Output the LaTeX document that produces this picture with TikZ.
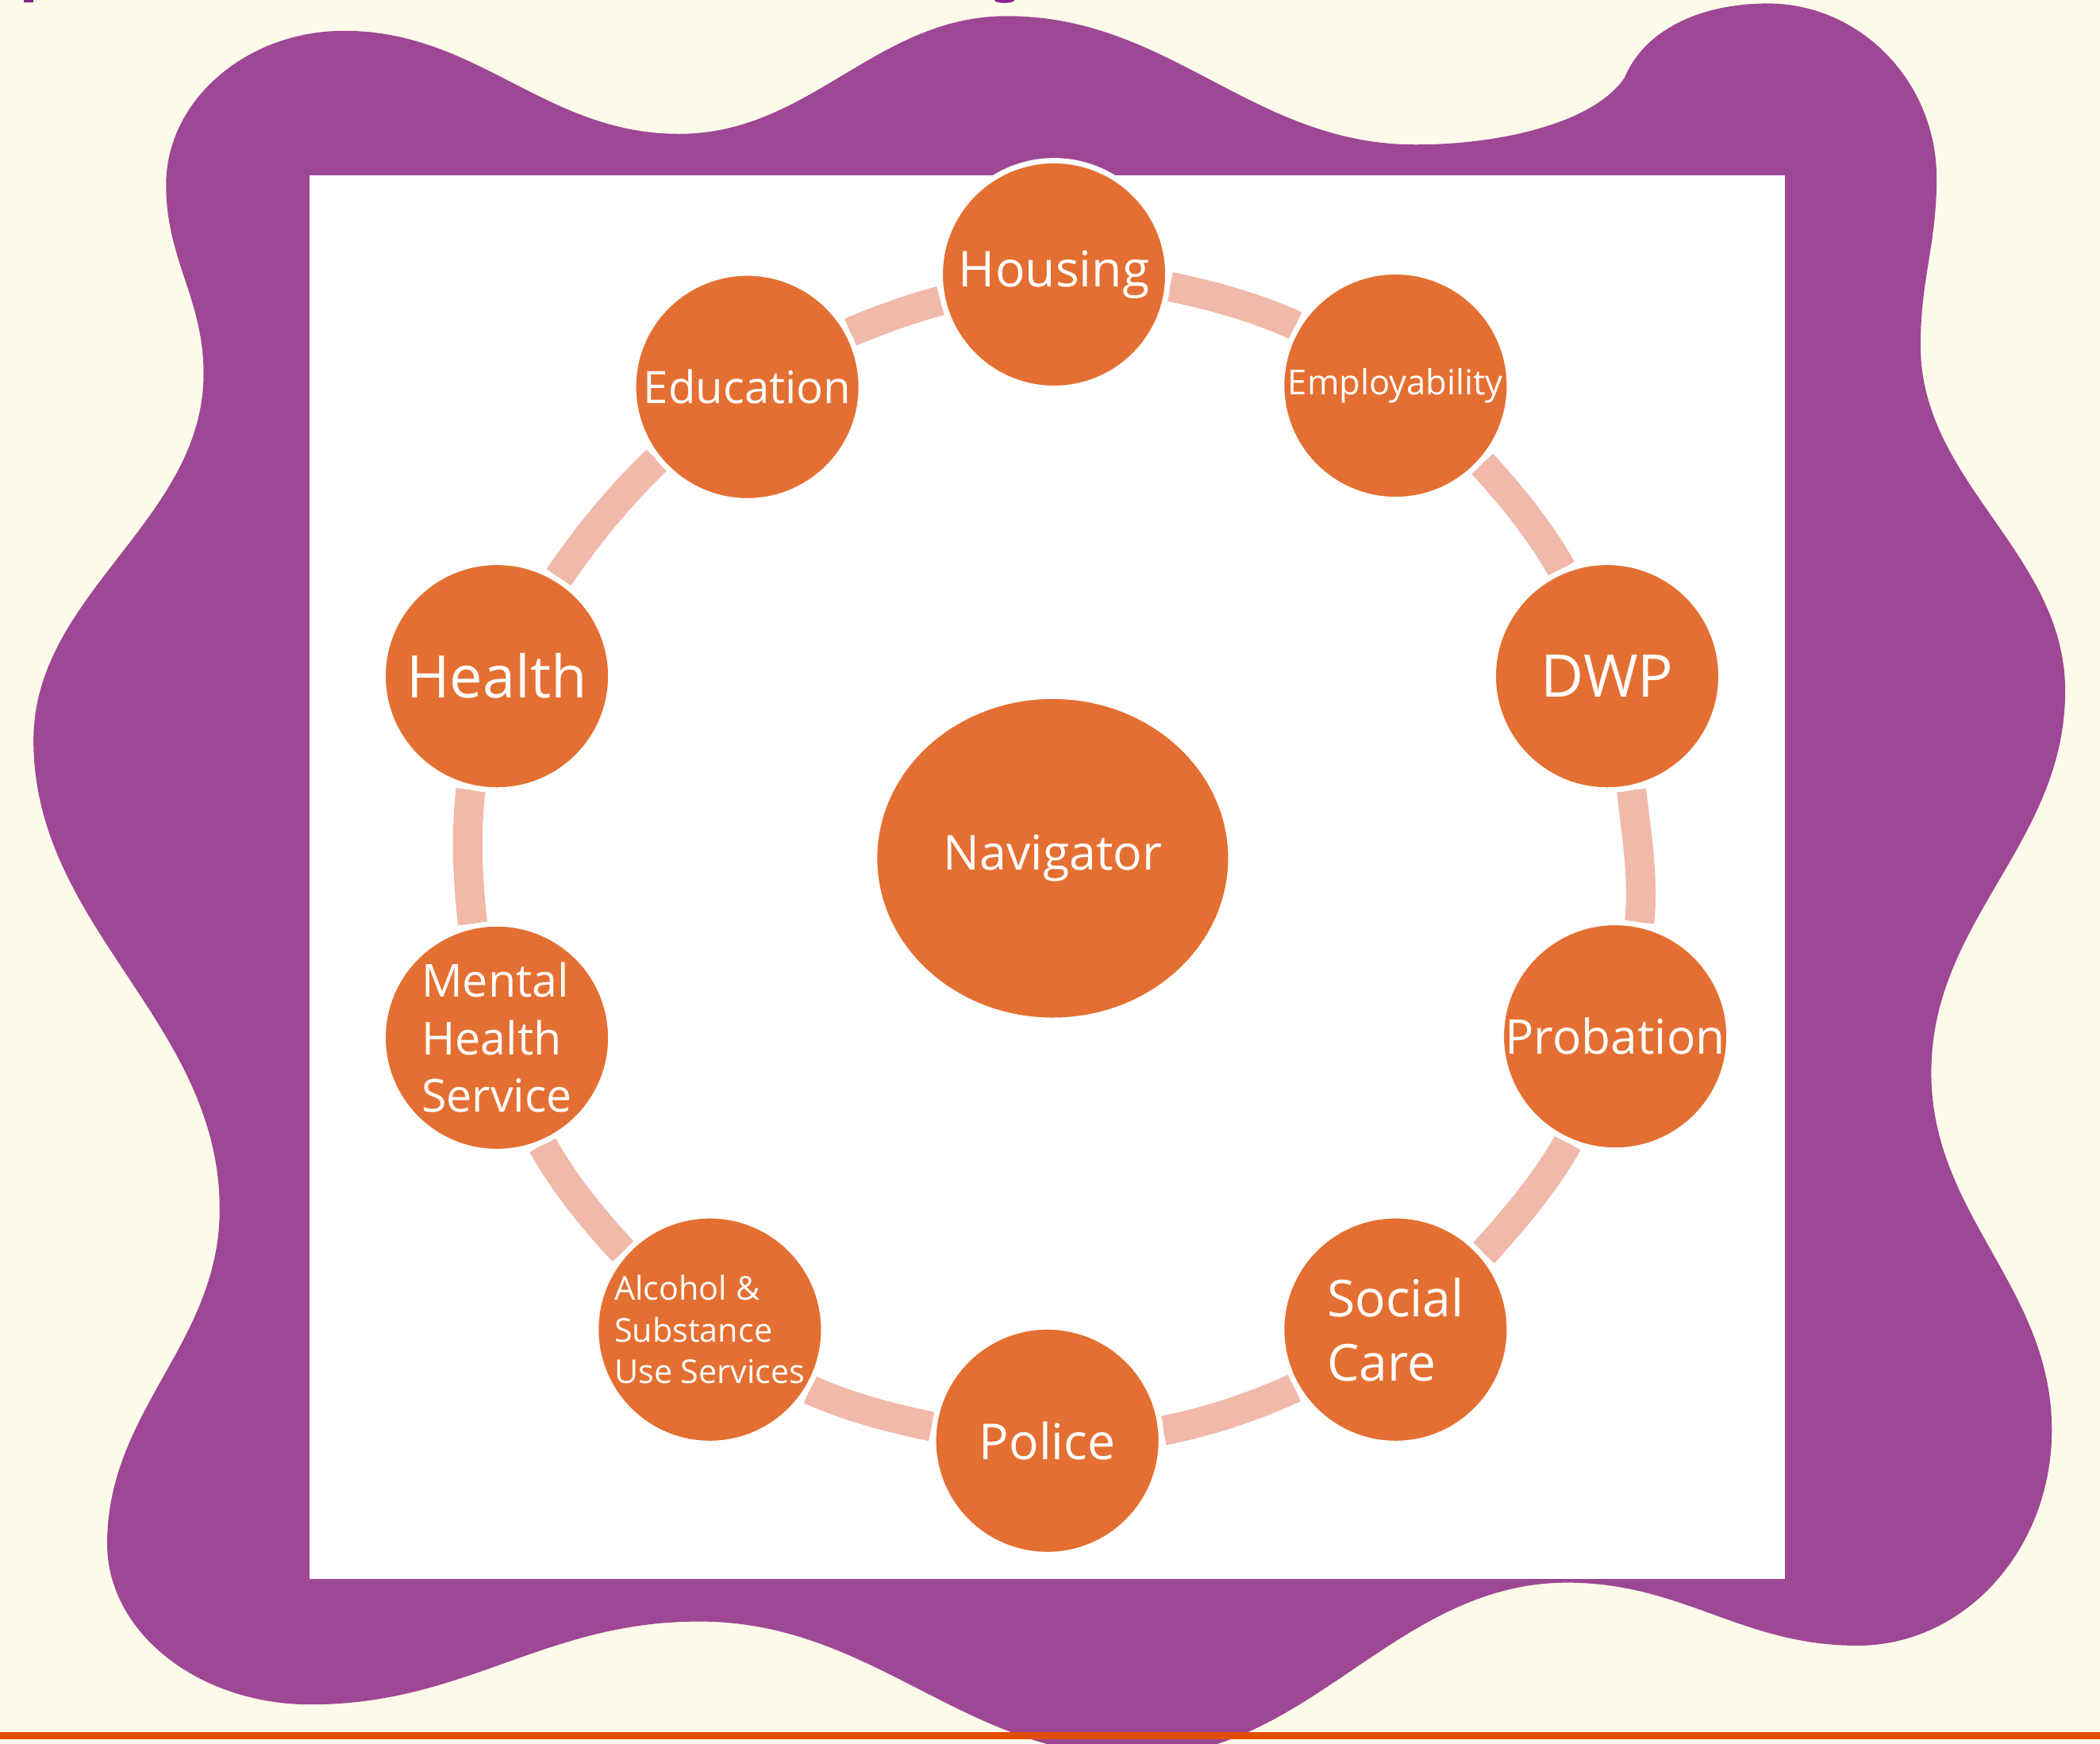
\documentclass[tikz,border=0pt]{standalone}
\usepackage{fontspec}
\setmainfont{Open Sans}
\usetikzlibrary{shapes.geometric}
\definecolor{cream}{HTML}{FEFBEA}
\definecolor{blobpurple}{HTML}{9E4794}
\definecolor{nodeorange}{HTML}{E46F32}
\definecolor{ringpink}{HTML}{F0B9AA}
\definecolor{lineorange}{HTML}{E04E02}
\definecolor{titlepurple}{HTML}{86208C}
\pgfdeclarelayer{back}
\pgfdeclarelayer{mid}
\pgfsetlayers{back,mid,main}
\newcommand\fsz[2]{\fontsize{#1}{#2}\selectfont}
\begin{document}
\begin{tikzpicture}[x=1pt,y=-1pt,
  svc/.style={circle, fill=nodeorange, draw=white, line width=4pt,
    minimum size=170pt, inner sep=0pt, text=white, align=left},
  hub/.style={ellipse, fill=nodeorange, draw=white, line width=4pt,
    minimum width=266pt, minimum height=242pt, inner sep=0pt, text=white},
  link/.style={draw=ringpink, line width=22pt}]
\useasboundingbox (0,0) rectangle (1568,1302);
\begin{pgfonlayer}{back}
\fill[cream] (0,0) rectangle (1568,1302);
\fill[titlepurple] (18,0) rectangle (25,1.8);
\fill[titlepurple] (750,0) ellipse (7.5 and 2.2);
\fill[blobpurple] (257,23)
 .. controls (357,23) and (407,100) .. (507,100)
 .. controls (605,100) and (654,12) .. (752,12)
 .. controls (874,12) and (935,108) .. (1057,108)
 .. controls (1120,108) and (1190,92) .. (1213,58)
 .. controls (1228,22) and (1270,2.6) .. (1320,2.6)
 .. controls (1389,2.6) and (1446,61) .. (1446,133)
 .. controls (1446,183) and (1434,208) .. (1434,258)
 .. controls (1434,361) and (1542,413) .. (1542,516)
 .. controls (1542,630) and (1442,687) .. (1442,801)
 .. controls (1442,908) and (1532,961) .. (1532,1068)
 .. controls (1532,1157) and (1467,1229) .. (1387,1229)
 .. controls (1300,1229) and (1257,1182) .. (1170,1182)
 .. controls (1042,1182) and (978,1312) .. (850,1312)
 .. controls (719,1312) and (653,1211) .. (522,1211)
 .. controls (406,1211) and (348,1273) .. (232,1273)
 .. controls (148,1273) and (80,1219) .. (80,1153)
 .. controls (80,1053) and (164,1003) .. (164,903)
 .. controls (164,763) and (25,693) .. (25,553)
 .. controls (25,443) and (152,389) .. (152,279)
 .. controls (152,223) and (124,194) .. (124,138)
 .. controls (124,75) and (184,23) .. (257,23) -- cycle;
\draw[lineorange, line width=5pt] (0,1296.3) -- (1568,1296.3);
\fill[white] (231,131) rectangle (1333,1179);
\end{pgfonlayer}

\node[svc, font=\fsz{37}{44}] (housing) at (787,205) {Housing};
\node[svc, font=\fsz{25.8}{31}] (employ) at (1042,288) {Employability};
\node[svc, font=\fsz{44}{52}] (dwp) at (1200,505) {DWP};
\node[svc, font=\fsz{35.8}{43}] (probation) at (1206,774) {Probation};
\node[svc, font=\fsz{38}{48}] (social) at (1042,993) {Social\\Care};
\node[svc, font=\fsz{37}{44}] (police) at (782,1076) {Police};
\node[svc, font=\fsz{24.5}{31}] (alcohol) at (530,993) {Alcohol \&\\Substance\\Use Services};
\node[svc, font=\fsz{34}{43}] (mental) at (371,775) {Mental\\Health\\Service};
\node[svc, font=\fsz{43.8}{52}] (health) at (371,505) {Health};
\node[svc, font=\fsz{33.4}{40}] (education) at (558,289) {Education};
\node[hub, font=\fsz{36}{43}] (navigator) at (786,641) {Navigator};

\begin{pgfonlayer}{mid}
\foreach \a/\pa/\b/\pb in {housing/89.7/employ/53.9, employ/53.9/dwp/18.0,
  dwp/18.0/probation/-17.7, probation/-17.7/social/-53.9,
  social/-53.9/police/-90.4, police/-90.4/alcohol/-125.8,
  alcohol/-125.8/mental/-162.0, mental/-162.0/health/-198.0} {
  \pgfmathsetmacro\ea{mod(\pa-95.7+720,360)}
  \pgfmathsetmacro\eb{mod(\pb+95.7+720,360)}
  \pgfmathsetmacro\oa{\pa-101.45}
  \pgfmathsetmacro\ib{\pb+101.45}
  \pgfmathsetmacro\h{4/3*tan((\pa-\pb-22.9)/4)*436}
  \draw[link] (\a.\ea) .. controls +(\oa:\h pt) and +(\ib:\h pt) .. (\b.\eb);
}
\draw[link] (health.58.1) .. controls +(55.7:38.5pt) and +(223.7:38.5pt) .. (education.219.4);
\draw[link] (education.28) .. controls +(22.8:24pt) and +(194.8:24pt) .. (housing.193.4);
\end{pgfonlayer}
\end{tikzpicture}
\end{document}
